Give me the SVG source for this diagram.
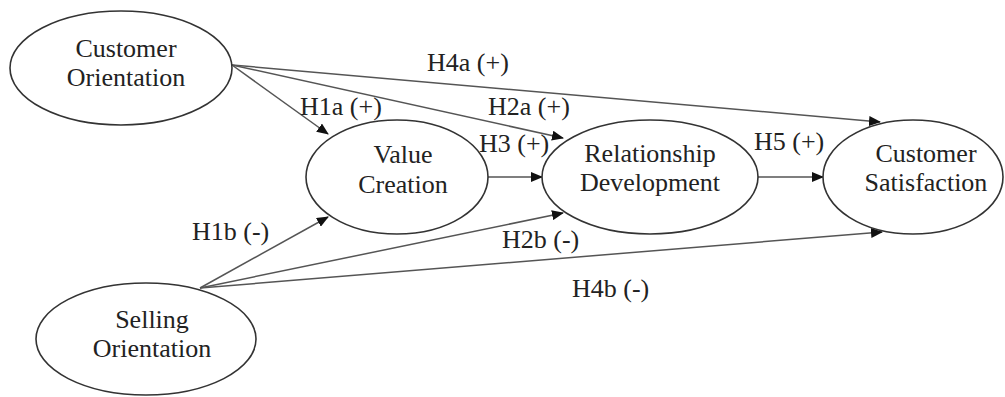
<svg xmlns="http://www.w3.org/2000/svg" width="1005" height="397" viewBox="0 0 1005 397">
<style>
.node ellipse{fill:#fff;stroke:#333;stroke-width:1.6}
.node text{font-family:"Liberation Serif",serif;font-size:26px;fill:#222;text-anchor:middle}
.lbl{font-family:"Liberation Serif",serif;font-size:26px;fill:#222}
#edges line{stroke:#555;stroke-width:1.5}
</style>
<defs>
<marker id="ah" markerUnits="userSpaceOnUse" markerWidth="12" markerHeight="10" refX="11" refY="5" orient="auto">
<path d="M0,0 L12,5 L0,10 Z" fill="#111"/>
</marker>
</defs>
<g id="edges">
<line x1="232" y1="65" x2="328" y2="134" marker-end="url(#ah)"/>
<line x1="232" y1="65" x2="563" y2="138" marker-end="url(#ah)"/>
<line x1="232" y1="65" x2="880" y2="122" marker-end="url(#ah)"/>
<line x1="488" y1="177" x2="542" y2="177" marker-end="url(#ah)"/>
<line x1="758" y1="177" x2="823" y2="177" marker-end="url(#ah)"/>
<line x1="200" y1="288" x2="328" y2="217" marker-end="url(#ah)"/>
<line x1="200" y1="288" x2="563" y2="213" marker-end="url(#ah)"/>
<line x1="200" y1="288" x2="882" y2="232" marker-end="url(#ah)"/>
<text class="lbl" x="427" y="71">H4a (+)</text>
<text class="lbl" x="300" y="115">H1a (+)</text>
<text class="lbl" x="488" y="115">H2a (+)</text>
<text class="lbl" x="479" y="152">H3 (+)</text>
<text class="lbl" x="754" y="150">H5 (+)</text>
<text class="lbl" x="192" y="240">H1b (-)</text>
<text class="lbl" x="502" y="248">H2b (-)</text>
<text class="lbl" x="572" y="297">H4b (-)</text>
</g>
<g id="customer-orientation" class="node">
<ellipse cx="121" cy="68" rx="111" ry="57"/>
<text x="126" y="57">Customer</text>
<text x="126" y="86">Orientation</text>
</g>
<g id="value-creation" class="node">
<ellipse cx="397" cy="177" rx="91" ry="57"/>
<text x="403" y="163">Value</text>
<text x="403" y="193">Creation</text>
</g>
<g id="relationship-development" class="node">
<ellipse cx="650" cy="177" rx="108" ry="57"/>
<text x="650" y="162">Relationship</text>
<text x="650" y="191">Development</text>
</g>
<g id="customer-satisfaction" class="node">
<ellipse cx="913" cy="177" rx="90" ry="57"/>
<text x="926" y="162">Customer</text>
<text x="926" y="191">Satisfaction</text>
</g>
<g id="selling-orientation" class="node">
<ellipse cx="146" cy="339" rx="110" ry="56"/>
<text x="152" y="328">Selling</text>
<text x="152" y="357">Orientation</text>
</g>
</svg>
